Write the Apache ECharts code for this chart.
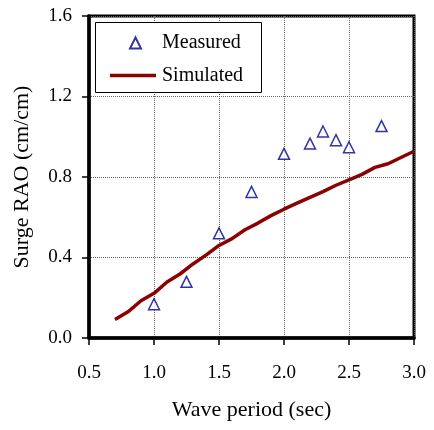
<!DOCTYPE html>
<html>
<head>
<meta charset="utf-8">
<script src="https://cdn.jsdelivr.net/npm/echarts@6/dist/echarts.min.js"></script>
<style>html,body{margin:0;padding:0;background:#fff;}#chart{width:434px;height:430px;}</style>
</head>
<body>
<div id="chart"></div>
<script>
var measuredPeriod = [1.0, 1.25, 1.5, 1.75, 2.0, 2.2, 2.3, 2.4, 2.5, 2.75];
var measuredRAO = [0.168, 0.279, 0.52, 0.726, 0.915, 0.966, 1.026, 0.983, 0.948, 1.053];
var simPeriod = [0.7, 0.8, 0.9, 1.0, 1.1, 1.2, 1.3, 1.4, 1.5, 1.6, 1.7, 1.8, 1.9, 2.0, 2.1, 2.2, 2.3, 2.4, 2.5, 2.6, 2.7, 2.8, 2.9, 3.0];
var simRAO = [0.092, 0.13, 0.185, 0.222, 0.278, 0.318, 0.368, 0.412, 0.46, 0.494, 0.538, 0.571, 0.608, 0.64, 0.67, 0.699, 0.727, 0.759, 0.786, 0.813, 0.848, 0.866, 0.897, 0.928];

var font = '"Liberation Serif", "Times New Roman", serif';
var chart = echarts.init(document.getElementById('chart'));
chart.setOption({
  animation: false,
  backgroundColor: '#fff',
  grid: {left: 89, right: 20, top: 16, bottom: 92, show: true, borderColor: '#000', borderWidth: 3},
  graphic: [{
    type: 'rect', z: 3, silent: true,
    shape: {x: 95.5, y: 22.5, width: 166, height: 70},
    style: {fill: '#fff', stroke: '#000', lineWidth: 1}
  }],
  legend: [
    {
      left: 129, top: 33, padding: 0, z: 6,
      itemWidth: 11, itemHeight: 11,
      textStyle: {fontFamily: font, fontSize: 20, color: '#000', padding: [0, 0, 0, 16]},
      data: [{name: 'Measured', icon: 'triangle'}]
    },
    {
      left: 110, top: 65.5, padding: 0, z: 6,
      itemWidth: 46, itemHeight: 3.5,
      textStyle: {fontFamily: font, fontSize: 20, color: '#000', padding: [0, 0, 0, 1]},
      data: [{name: 'Simulated', icon: 'rect', itemStyle: {color: '#8B0000', borderWidth: 0}}]
    }
  ],
  xAxis: {
    type: 'value', min: 0.5, max: 3.0, interval: 0.5,
    name: 'Wave period (sec)', nameLocation: 'middle', nameGap: 61,
    nameTextStyle: {fontFamily: font, fontSize: 22, color: '#000'},
    axisLine: {show: true, onZero: false, lineStyle: {color: '#000', width: 3.5}},
    axisTick: {show: true, inside: false, length: 7, lineStyle: {color: '#000', width: 1.5}},
    axisLabel: {fontFamily: font, fontSize: 19, color: '#000', margin: 26, formatter: function(v){return v.toFixed(1);}},
    splitLine: {show: true, lineStyle: {color: '#666', type: [1, 1], width: 1}}
  },
  yAxis: {
    type: 'value', min: 0, max: 1.6, interval: 0.4,
    name: 'Surge RAO (cm/cm)', nameLocation: 'middle', nameGap: 56,
    nameTextStyle: {fontFamily: font, fontSize: 22, color: '#000'},
    axisLine: {show: true, lineStyle: {color: '#000', width: 3.5}},
    axisTick: {show: true, inside: false, length: 7, lineStyle: {color: '#000', width: 1.5}},
    axisLabel: {fontFamily: font, fontSize: 19, color: '#000', margin: 17, formatter: function(v){return v.toFixed(1);}},
    splitLine: {show: true, lineStyle: {color: '#666', type: [1, 1], width: 1}}
  },
  series: [
    {
      name: 'Measured', type: 'scatter', symbol: 'triangle', symbolSize: [11, 11],
      itemStyle: {color: '#fff', borderColor: '#00008B', borderWidth: 1.5},
      data: measuredPeriod.map(function(x, i){return [x, measuredRAO[i]];}),
      z: 3
    },
    {
      name: 'Simulated', type: 'line', showSymbol: false, symbol: 'none',
      lineStyle: {color: '#8B0000', width: 3.5},
      itemStyle: {color: '#8B0000'},
      data: simPeriod.map(function(x, i){return [x, simRAO[i]];}),
      z: 2
    }
  ]
});
</script>
</body>
</html>
